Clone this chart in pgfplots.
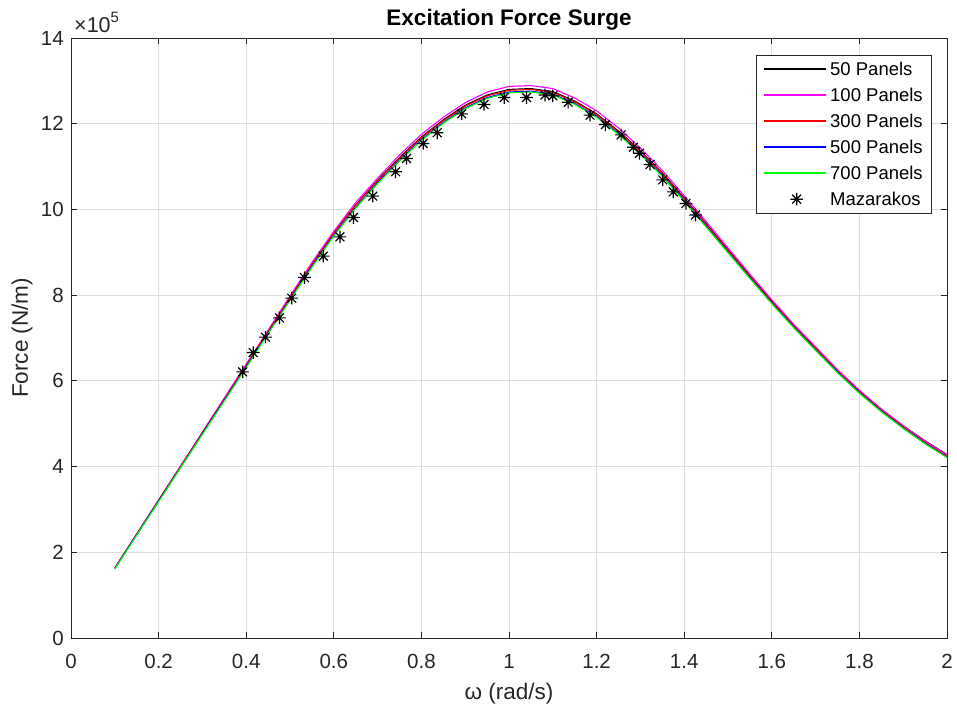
\documentclass[border=0pt]{standalone}
\usepackage{fontspec}
\setmainfont{Liberation Sans}
\usepackage{pgfplots}
\pgfplotsset{compat=1.18}
\usepackage{pgfplotstable}

\definecolor{axgray}{RGB}{38,38,38}
\definecolor{gridgray}{RGB}{222,222,222}
\definecolor{mblack}{RGB}{0,0,0}
\definecolor{mmagenta}{RGB}{255,0,255}
\definecolor{mred}{RGB}{255,0,0}
\definecolor{mblue}{RGB}{0,0,255}
\definecolor{mgreen}{RGB}{0,255,0}

% MATLAB-like '*' marker: plus and cross on top of each other
\pgfdeclareplotmark{mstar}{%
  \pgfpathmoveto{\pgfqpoint{-\pgfplotmarksize}{0pt}}%
  \pgfpathlineto{\pgfqpoint{\pgfplotmarksize}{0pt}}%
  \pgfpathmoveto{\pgfqpoint{0pt}{-\pgfplotmarksize}}%
  \pgfpathlineto{\pgfqpoint{0pt}{\pgfplotmarksize}}%
  \pgfpathmoveto{\pgfqpoint{-.7\pgfplotmarksize}{-.7\pgfplotmarksize}}%
  \pgfpathlineto{\pgfqpoint{.7\pgfplotmarksize}{.7\pgfplotmarksize}}%
  \pgfpathmoveto{\pgfqpoint{-.7\pgfplotmarksize}{.7\pgfplotmarksize}}%
  \pgfpathlineto{\pgfqpoint{.7\pgfplotmarksize}{-.7\pgfplotmarksize}}%
  \pgfusepathqstroke}

% force in units of 1e5 N/m
\pgfplotstableread{
x    p50   p100  p300  p500  p700
0.10 1.63  1.64  1.63  1.62  1.61
0.15 2.42  2.43  2.42  2.41  2.40
0.20 3.21  3.22  3.21  3.20  3.18
0.25 4.00  4.01  4.00  3.98  3.97
0.30 4.79  4.80  4.79  4.77  4.75
0.35 5.58  5.60  5.57  5.55  5.53
0.40 6.37  6.39  6.36  6.33  6.31
0.45 7.16  7.18  7.15  7.12  7.10
0.50 7.95  7.98  7.94  7.90  7.88
0.55 8.72  8.76  8.71  8.67  8.65
0.60 9.45  9.49  9.44  9.40  9.38
0.65 10.11 10.16 10.10 10.05 10.03
0.70 10.68 10.73 10.66 10.62 10.60
0.75 11.21 11.27 11.19 11.15 11.13
0.80 11.69 11.75 11.67 11.63 11.61
0.85 12.09 12.15 12.07 12.03 12.01
0.90 12.43 12.49 12.41 12.37 12.35
0.95 12.67 12.74 12.65 12.61 12.59
1.00 12.80 12.87 12.78 12.74 12.72
1.05 12.82 12.89 12.80 12.76 12.74
1.10 12.75 12.82 12.73 12.69 12.67
1.15 12.53 12.60 12.51 12.47 12.45
1.20 12.23 12.30 12.21 12.17 12.15
1.25 11.83 11.90 11.81 11.77 11.75
1.30 11.37 11.43 11.35 11.31 11.29
1.35 10.85 10.91 10.83 10.79 10.77
1.40 10.27 10.32 10.25 10.21 10.19
1.45 9.67  9.72  9.65  9.61  9.59
1.50 9.06  9.10  9.04  9.00  8.99
1.55 8.45  8.49  8.43  8.40  8.39
1.60 7.86  7.89  7.84  7.81  7.80
1.65 7.30  7.32  7.28  7.25  7.24
1.70 6.77  6.79  6.75  6.72  6.71
1.75 6.25  6.26  6.22  6.20  6.19
1.80 5.77  5.78  5.74  5.72  5.71
1.85 5.34  5.34  5.31  5.29  5.28
1.90 4.95  4.95  4.92  4.90  4.89
1.95 4.60  4.59  4.56  4.54  4.53
2.00 4.28  4.27  4.24  4.22  4.21
}\panels

\pgfplotstableread{
x     y
0.392 6.21
0.416 6.66
0.444 7.02
0.476 7.47
0.504 7.93
0.533 8.41
0.576 8.91
0.614 9.36
0.645 9.81
0.689 10.31
0.741 10.88
0.766 11.19
0.804 11.54
0.836 11.79
0.892 12.23
0.943 12.45
0.989 12.61
1.040 12.61
1.082 12.67
1.100 12.65
1.135 12.50
1.185 12.20
1.220 11.98
1.256 11.74
1.284 11.45
1.298 11.31
1.322 11.05
1.351 10.69
1.375 10.41
1.404 10.14
1.426 9.87
}\mazarakos

\begin{document}
\begin{tikzpicture}
\begin{axis}[
    scale only axis,
    width=876pt, height=600pt,
    xmin=0, xmax=2,
    ymin=0, ymax=14,
    xtick={0,0.2,0.4,0.6,0.8,1,1.2,1.4,1.6,1.8,2},
    ytick={0,2,4,6,8,10,12,14},
    /pgf/number format/assume math mode=true,
    axis line style={axgray, line width=0.8pt},
    tick style={axgray, line width=0.8pt},
    tick align=inside,
    major tick length=6pt,
    xtick pos=both, ytick pos=both,
    grid=major,
    major grid style={gridgray, line width=0.8pt},
    ticklabel style={font=\fontsize{20.5}{24}\selectfont, text=axgray},
    xticklabel style={anchor=base, yshift=-30pt},
    yticklabel style={anchor=east, inner sep=0pt, xshift=-7pt},
    title={Excitation Force Surge},
    title style={at={(axis description cs:0.5,1.01)}, anchor=base,
        font=\fontsize{22.5}{26}\selectfont\bfseries},
    xlabel={ω (rad/s)},
    ylabel={Force (N/m)},
    label style={font=\fontsize{22.5}{26}\selectfont, text=axgray},
    xlabel style={at={(axis description cs:0.5,-0.1017)}, anchor=base},
    ylabel style={at={(axis description cs:-0.0491,0.5)}, anchor=base},
    legend style={at={(0.9817,0.9717)}, anchor=north east,
        draw=none, name=lgd,
        font=\fontsize{18.5}{22}\selectfont,
        inner xsep=6pt, inner ysep=5pt, row sep=7pt,
        nodes={inner xsep=2pt}},
    legend cell align=left,
    % line keys are drawn after the axis; here only their room is kept
    legend image code/.code={\path (-3pt,0pt) (62pt,0pt);},
    every axis plot/.append style={line width=1.1pt},
]
\addplot[color=mblack] table[x=x, y=p50] {\panels};
\addlegendentry{50 Panels}
\addplot[color=mmagenta] table[x=x, y=p100] {\panels};
\addlegendentry{100 Panels}
\addplot[color=mred] table[x=x, y=p300] {\panels};
\addlegendentry{300 Panels}
\addplot[color=mblue] table[x=x, y=p500] {\panels};
\addlegendentry{500 Panels}
\addplot[color=mgreen] table[x=x, y=p700] {\panels};
\addlegendentry{700 Panels}
\addplot[color=mblack, only marks, mark=mstar, mark size=6.3pt,
    mark options={line width=1.2pt},
    legend image code/.code={%
      \draw[draw=mblack, line width=1.2pt]
        plot[only marks, mark=mstar, mark size=6.3pt] coordinates {(31pt,0pt)};
      \path (-3pt,0pt) (62pt,0pt);}]
    table[x=x, y=y] {\mazarakos};
\addlegendentry{Mazarakos}
\end{axis}
\draw[axgray, line width=0.8pt] (lgd.south west) rectangle (lgd.north east);
\foreach \c [count=\k from 0] in {mblack,mmagenta,mred,mblue,mgreen}
    \draw[\c, line width=1.1pt]
        ([xshift=8pt, yshift={-14pt-26pt*\k}]lgd.north west) -- ++(62pt,0pt);
\node[anchor=base west, text=axgray, font=\fontsize{21.5}{24}\selectfont, inner sep=0pt]
    at ([xshift=3pt, yshift=5pt]current axis.north west)
    {×10\raisebox{0.5em}{\fontsize{15}{16}\selectfont 5}};
\path ([xshift=-71pt, yshift=-71pt]current axis.south west)
    rectangle ([xshift=10pt, yshift=38pt]current axis.north east);
\end{tikzpicture}
\end{document}
